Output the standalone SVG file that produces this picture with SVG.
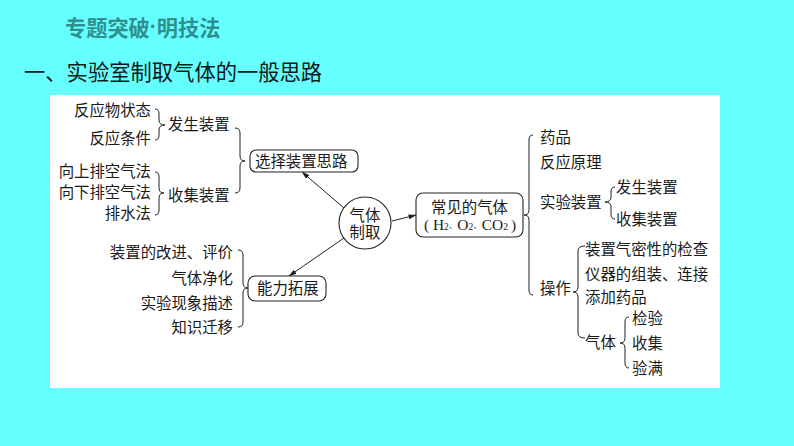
<svg xmlns="http://www.w3.org/2000/svg" width="794" height="446" viewBox="0 0 794 446">
<style>
text{font-family:"Noto Sans CJK SC",sans-serif;font-size:15.4px;fill:#1a1a1a;dominant-baseline:central}
.r{text-anchor:end}
.m{text-anchor:middle}
.box{fill:#fff;stroke:#222;stroke-width:1.1}
.b{fill:none;stroke:#222;stroke-width:1}
.a{stroke:#222;stroke-width:1;fill:none;marker-end:url(#ah)}
.lat{font-family:"Liberation Serif",serif;font-size:15.4px}
.sub{font-family:"Liberation Serif",serif;font-size:9.5px}
.dun{font-family:"Noto Sans CJK SC",sans-serif;font-size:8.5px}
</style>
<defs><marker id="ah" markerUnits="userSpaceOnUse" markerWidth="8" markerHeight="6" refX="7.5" refY="2.5" orient="auto"><path d="M0 0L8 2.5L0 5z" fill="#222"/></marker></defs>
<rect width="794" height="446" fill="#66ffff"/>
<rect x="50" y="95" width="670" height="293" fill="#fff"/>
<text x="65" y="26" style="font-size:21.2px;font-weight:700;fill:#2f8f90">专题突破<tspan style="font-family:'Liberation Sans',sans-serif">·</tspan>明技法</text>
<text x="24" y="70" style="font-size:21.3px;fill:#0a1a1a">一、实验室制取气体的一般思路</text>
<g id="connectors">
<path class="a" d="M344 208L302 172"/>
<path class="a" d="M344 238L289 276"/>
<path class="a" d="M392 221L416 215"/>
<path class="b" d="M155 109Q159 109 159 114V120Q159 125 165 125Q159 125 159 130V135Q159 140 155 140"/>
<path class="b" d="M155 172Q159 172 159 177V188Q159 193 164 193Q159 193 159 198V210Q159 215 155 215"/>
<path class="b" d="M235 128Q240 128 240 133V156Q240 161 245 161Q240 161 240 166V188Q240 193 235 193"/>
<path class="b" d="M238 250Q243 250 243 255V283Q243 288 248 288Q243 288 243 293V322Q243 327 238 327"/>
<path class="b" d="M533 135Q529 135 529 140V210Q529 215 524 215Q529 215 529 220V290Q529 295 533 295"/>
<path class="b" d="M615 187Q611 187 611 192V197Q611 202 605 202Q611 202 611 207V214Q611 219 615 219"/>
<path class="b" d="M585 246Q578 246 578 251V287Q578 292 573 292Q578 292 578 297V333Q578 338 585 338"/>
<path class="b" d="M629 317Q625 317 625 322V338Q625 343 620 343Q625 343 625 348V363Q625 368 629 368"/>
</g>
<g id="node-center"><circle class="box" cx="365" cy="223" r="26"/><text class="m" x="365" y="214">气体</text><text class="m" x="365" y="231">制取</text></g>
<g id="node-select"><rect class="box" x="250" y="150" width="108" height="22" rx="6"/><text x="255" y="160">选择装置思路</text></g>
<g id="node-ability"><rect class="box" x="248" y="276" width="78" height="25" rx="7"/><text x="257" y="287">能力拓展</text></g>
<g id="node-gases"><rect class="box" x="416" y="193" width="107" height="44" rx="7"/><text class="m" x="469.5" y="206">常见的气体</text>
<text class="lat" x="424" y="224">( H<tspan class="sub" dy="3">2</tspan><tspan class="dun" dy="-3">、</tspan>O<tspan class="sub" dy="3">2</tspan><tspan class="dun" dy="-3">、</tspan>CO<tspan class="sub" dy="3">2</tspan><tspan dy="-3" dx="3">)</tspan></text></g>
<g id="node-left-top" transform="translate(0,-1)">
<text class="r" x="151" y="110">反应物状态</text><text class="r" x="151" y="138">反应条件</text>
<text x="168" y="124">发生装置</text>
<text class="r" x="151" y="171">向上排空气法</text><text class="r" x="151" y="192">向下排空气法</text><text class="r" x="151" y="213">排水法</text>
<text x="168" y="195">收集装置</text>
</g>
<g id="node-left-bottom" transform="translate(0,-1)">
<text class="r" x="233" y="252">装置的改进、评价</text><text class="r" x="233" y="278">气体净化</text><text class="r" x="233" y="303">实验现象描述</text><text class="r" x="233" y="327">知识迁移</text>
</g>
<g id="node-right" transform="translate(0,-1)">
<text x="540" y="137">药品</text><text x="540" y="162">反应原理</text><text x="540" y="202">实验装置</text>
<text x="616" y="187">发生装置</text><text x="616" y="219">收集装置</text>
<text x="540" y="288">操作</text>
<text x="585" y="249">装置气密性的检查</text><text x="585" y="274">仪器的组装、连接</text><text x="585" y="297">添加药品</text>
<text x="585" y="342">气体</text>
<text x="632" y="318">检验</text><text x="632" y="343">收集</text><text x="632" y="368">验满</text>
</g>
</svg>
